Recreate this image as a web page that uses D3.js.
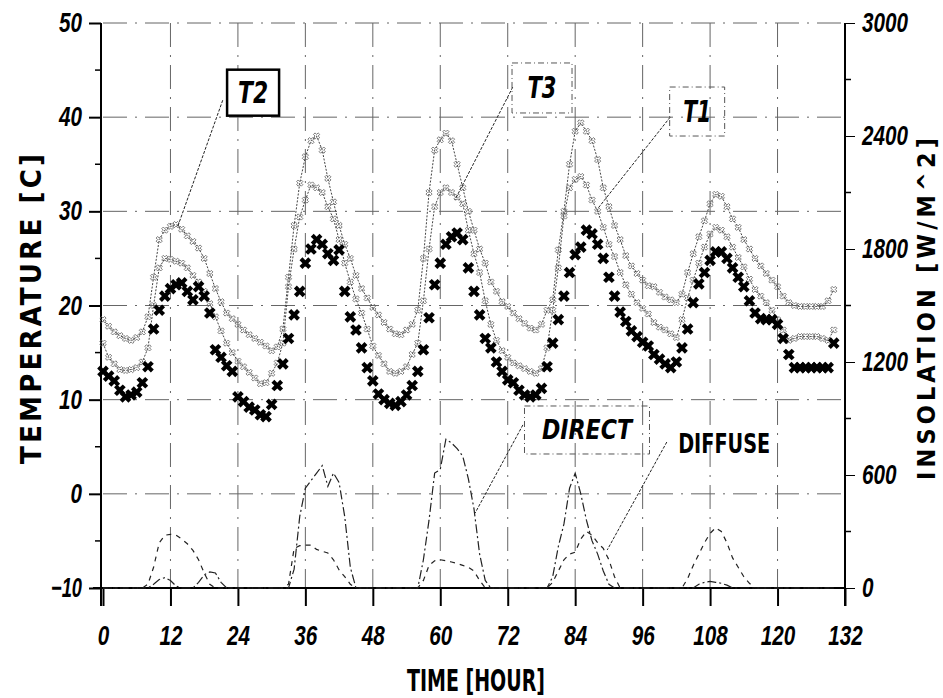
<!DOCTYPE html>
<html>
<head>
<meta charset="utf-8">
<script src="https://cdn.jsdelivr.net/npm/d3@7/dist/d3.min.js"></script>
<style>
  body { margin: 0; background: #fff; }
  svg { display: block; font-family: "Liberation Sans Narrow", "DejaVu Sans Condensed", "Liberation Sans", sans-serif; }
  .axis text { font-style: italic; font-weight: bold; font-size: 27px; fill: #000; }
  .axis path, .axis line { stroke: #000; }
</style>
</head>
<body>
<svg id="chart"></svg>
<script>
// hourly readings, index = hour (0..130)
const t1Values = [13,12.5,12,11,10.3,10.5,10.8,11.8,13.5,17.5,19.5,21,21.8,22.2,22.4,21.5,20.6,22,21,19.2,
  15.3,14.5,13.6,13,10.3,9.8,9.2,8.9,8.4,8.2,9.5,11.5,13.8,16.5,19,21.5,24.5,26,27,26.5,
  25.5,24.8,25.9,21.5,18.8,17.4,15.5,13.4,12,10.6,10,9.6,9.4,9.8,10.5,11.5,13,15.3,18.7,22.2,
  24.5,26.5,27.3,27.7,27,24,21.5,19,16.5,15.5,14,13,12.1,11.8,11,10.5,10.3,10.5,11.2,13.5,
  16,18.5,21,23.5,25.4,26.2,28,27.6,26.5,25,23,21,19.3,18.3,17.3,16.7,16.1,15.7,14.8,14.3,
  13.8,13.4,14,15.5,17.5,20.3,22.3,23.5,24.8,25.7,25.7,25,24,23,22,20.5,19.2,18.6,18.5,18.5,
  18,16.5,14.8,13.4,13.4,13.4,13.4,13.4,13.4,13.4,16];

const t2Values = [18.5,17.8,17.2,16.8,16.5,16.3,16.6,17.2,18.8,23,27,28,28.4,28.6,28.1,27.4,26.8,26.1,25,23.4,
  21.8,20.4,19.2,18.6,18,17.4,16.9,16.5,16.1,15.7,15.2,15.6,17.5,23,28.5,33,35.8,37.5,38,36.5,
  33.5,31,28.5,26.5,25,23.2,21.8,20.8,19.8,19,18.2,17.5,17,16.9,17.4,18,19.5,25,32,36.5,
  37.6,38.3,37.5,35,32.5,30,28,26,24.5,22.5,21.5,20.4,19.9,19.2,18.6,18.1,17.6,17.4,18,19.5,
  20.6,25.9,30,35,38.5,39.4,38.5,37.5,35.5,32.5,30.5,28.5,27,25.3,24.2,23.4,22.7,22.1,22,21.4,
  20.9,20.6,20.3,21.2,23.5,25.5,27.3,29,30.8,31.8,31.6,30.5,29.2,28.3,27,26,25,24.2,23.4,22.7,
  22,21,20.3,20,19.9,19.9,19.9,19.9,19.9,20.5,21.7];

const t3Values = [16,14.5,13.8,13.2,13.1,13.2,13.4,14,15.5,20,24,25,24.9,24.7,24.5,24,23.2,22.5,21.5,20.2,
  18.8,17.3,16,15,14.1,13.5,12.9,12.3,11.7,11.8,12.8,13.9,16,22,26,29.4,31.2,32.8,32.5,32,
  30.5,29.2,27,24.5,22.5,20.7,19.2,17.5,15.7,14.7,13.8,13,12.8,13,13.5,14.8,16,20.5,26,30.5,
  32,32.5,32,31.5,30.8,28,25.5,23.5,20.5,18,16.3,15.2,14.5,13.9,13.6,13.3,13,12.8,13.3,15.5,
  19.5,24,29.5,32.5,33.4,33.7,32.8,31.2,30,28.3,26.5,25.2,23.5,22.2,21.2,20.3,19.7,19.1,18.2,17.7,
  17.4,17,16.6,18.5,20.8,22.7,24.5,26.2,27.6,28.3,28,27.3,26.2,25.1,24.1,22.8,21.7,21,20.3,19.5,
  18.5,17.4,16.3,16.5,16.7,16.7,16.7,16.7,16.5,16.3,17.4];

const directValues = [0,0,0,0,0,0,0,0,0,20,45,55,40,10,0,0,0,30,70,85,
  80,30,0,0,0,0,0,0,0,0,0,0,0,0,100,380,530,570,610,650,
  540,610,560,380,110,0,0,0,0,0,0,0,0,0,0,0,0,150,360,610,
  630,790,770,740,700,580,420,180,40,0,0,0,0,0,0,0,0,0,0,0,
  60,220,340,530,610,500,360,250,180,90,20,0,0,0,0,0,0,0,0,0,
  0,0,0,0,0,0,20,30,35,30,25,15,0,0,0,0,0,0,0,0,
  0,0,0,0,0,0,0,0,0,0,0];

const diffuseValues = [0,0,0,0,0,0,0,0,20,110,240,280,285,280,260,235,200,150,80,20,
  0,0,0,0,0,0,0,0,0,0,0,0,0,20,210,225,228,228,205,195,
  186,150,96,60,20,0,0,0,0,0,0,0,0,0,0,0,0,40,120,145,
  150,145,138,130,120,110,90,40,0,0,0,0,0,0,0,0,0,0,0,0,
  30,90,150,180,190,260,300,280,240,210,150,60,0,0,0,0,0,0,0,0,
  0,0,0,0,50,120,180,240,290,320,300,240,160,110,60,25,0,0,0,0,
  0,0,0,0,0,0,0,0,0,0,0];

const xTicks = [0, 12, 24, 36, 48, 60, 72, 84, 96, 108, 120, 132];
const tempTicks = [-10, 0, 10, 20, 30, 40, 50];
const tempMinor = [-5, 5, 15, 25, 35, 45];
const insolTicks = [0, 600, 1200, 1800, 2400, 3000];
const insolMinor = [300, 900, 1500, 2100, 2700];

const width = 943, height = 698;
const svg = d3.select('#chart').attr('width', width).attr('height', height);
svg.append('rect').attr('width', width).attr('height', height).attr('fill', '#fff');

const x = d3.scaleLinear().domain([0, 132]).range([103, 845]);
const y = d3.scaleLinear().domain([-10, 50]).range([588, 23]);
const yR = d3.scaleLinear().domain([0, 3000]).range([588, 23]);

// squeeze tick labels to look like the narrow typeface of the original
function narrow(sel) {
  sel.selectAll('.tick text').each(function () {
    const s = this.textContent;
    let w = 0;
    for (const c of s) w += /[0-9]/.test(c) ? 11.5 : 8;
    d3.select(this).attr('textLength', w).attr('lengthAdjust', 'spacingAndGlyphs');
  });
}

// grid (dash-dot like the scanned original)
const grid = svg.append('g').attr('stroke', '#333').attr('stroke-width', 1)
  .attr('stroke-dasharray', '24,8,2,8').attr('opacity', 0.75);
grid.selectAll('.vg').data(xTicks.slice(1, -1)).join('line')
  .attr('x1', d => x(d)).attr('x2', d => x(d)).attr('y1', y(50)).attr('y2', y(-10));
grid.selectAll('.hg').data(tempTicks.slice(1)).join('line')
  .attr('x1', x(0)).attr('x2', x(132)).attr('y1', d => y(d)).attr('y2', d => y(d));

// axes
const xAxis = svg.append('g').attr('class', 'axis')
  .attr('transform', `translate(0,${y(-10)})`)
  .call(d3.axisBottom(x).tickValues(xTicks).tickFormat(d3.format('d'))
    .tickSize(18).tickSizeOuter(0).tickPadding(20));
xAxis.select('.domain').attr('d', `M${x(0) - 10},0H${x(132)}`).attr('stroke-width', 2);
xAxis.selectAll('.tick line').attr('stroke-width', 2);
narrow(xAxis);

const yAxis = svg.append('g').attr('class', 'axis')
  .attr('transform', `translate(${x(0) - 2},0)`)
  .call(d3.axisLeft(y).tickValues(tempTicks).tickFormat(d3.format('d'))
    .tickSize(12).tickSizeOuter(0).tickPadding(7));
yAxis.select('.domain').attr('d', `M0,${y(50)}V${y(-10) + 18}`).attr('stroke-width', 2);
yAxis.selectAll('.tick line').attr('stroke-width', 2);
narrow(yAxis);
svg.append('g').selectAll('line').data(tempMinor).join('line')
  .attr('x1', x(0) - 8).attr('x2', x(0) - 2).attr('y1', d => y(d)).attr('y2', d => y(d))
  .attr('stroke', '#000').attr('stroke-width', 1.5);

const rAxis = svg.append('g').attr('class', 'axis')
  .attr('transform', `translate(${x(132)},0)`)
  .call(d3.axisRight(yR).tickValues(insolTicks).tickFormat(d3.format('d'))
    .tickSize(10).tickSizeOuter(0).tickPadding(7));
rAxis.select('.domain').attr('d', `M0,${yR(3000)}V${yR(0) + 18}`).attr('stroke-width', 2);
narrow(rAxis);
svg.append('g').selectAll('line').data(insolMinor).join('line')
  .attr('x1', x(132)).attr('x2', x(132) + 6).attr('y1', d => yR(d)).attr('y2', d => yR(d))
  .attr('stroke', '#000').attr('stroke-width', 1.5);

// axis titles
svg.append('text')
  .attr('transform', `translate(41,309) rotate(-90)`)
  .attr('text-anchor', 'middle')
  .attr('textLength', 310).attr('lengthAdjust', 'spacing')
  .style('font-weight', 'bold').style('font-size', '29px')
  .text('TEMPERATURE [C]');
svg.append('text')
  .attr('transform', `translate(935,309) rotate(-90)`)
  .attr('text-anchor', 'middle')
  .attr('textLength', 342).attr('lengthAdjust', 'spacing')
  .style('font-weight', 'bold').style('font-size', '25px')
  .text('INSOLATION [W/M^2]');
svg.append('text')
  .attr('x', 476).attr('y', 691)
  .attr('text-anchor', 'middle')
  .attr('textLength', 138).attr('lengthAdjust', 'spacingAndGlyphs')
  .style('font-weight', 'bold').style('font-size', '30px')
  .text('TIME [HOUR]');

// insolation curves
const solarLine = vals => d3.line().x((d, i) => x(i)).y(d => yR(d))(vals);
svg.append('path').attr('d', solarLine(directValues))
  .attr('fill', 'none').attr('stroke', '#222').attr('stroke-width', 1.2)
  .attr('stroke-dasharray', '9,3,2,3');
svg.append('path').attr('d', solarLine(diffuseValues))
  .attr('fill', 'none').attr('stroke', '#222').attr('stroke-width', 1.2)
  .attr('stroke-dasharray', '5,5');

// temperature lines with small markers
const tempLine = d3.line().x((d, i) => x(i)).y(d => y(d));
const smallX = d3.symbol().type(d3.symbolCross).size(24);
[t2Values, t3Values].forEach(vals => {
  svg.append('path').attr('d', tempLine(vals))
    .attr('fill', 'none').attr('stroke', '#444').attr('stroke-width', 1)
    .attr('stroke-dasharray', '2,1.5');
  svg.append('g').selectAll('path').data(vals).join('path')
    .attr('d', smallX)
    .attr('transform', (d, i) => `translate(${x(i)},${y(d)}) rotate(45)`)
    .attr('fill', 'none').attr('stroke', '#666').attr('stroke-width', 0.8);
});

// T1: heavy cross markers
const bigX = d3.symbol().type(d3.symbolCross).size(85);
svg.append('g').selectAll('path').data(t1Values).join('path')
  .attr('d', bigX)
  .attr('transform', (d, i) => `translate(${x(i)},${y(d)}) rotate(45)`)
  .attr('fill', '#000');

// labels with leader lines (data coordinates)
const labels = [
  { text: 'T2', h: 26.7, v: 42.6, axis: 'T', box: 'solid', bw: 52, bh: 46, fs: 30, tw: 30, from: [21.3, 41.8], to: [13.3, 28.4] },
  { text: 'T3', h: 78.1, v: 43.1, axis: 'T', box: 'dotted', bw: 60, bh: 50, fs: 30, tw: 29, from: [72.9, 43.2], to: [62.6, 31.2] },
  { text: 'T1', h: 105.7, v: 40.6, axis: 'T', box: 'dotted', bw: 55, bh: 49, fs: 30, tw: 28, from: [100.9, 40], to: [87.9, 30.2] },
  { text: 'DIRECT', h: 86.1, v: 839, axis: 'R', box: 'dotted', bw: 125, bh: 48, fs: 27, tw: 90, from: [74.7, 866], to: [66.2, 398] },
  { text: 'DIFFUSE', h: 110.5, v: 765, axis: 'R', box: 'none', bw: 0, bh: 0, fs: 27, tw: 92, from: [100.3, 775], to: [89.7, 202] }
];
const yOf = (a, v) => a === 'T' ? y(v) : yR(v);
labels.forEach(l => {
  const cx = x(l.h), cy = yOf(l.axis, l.v);
  svg.append('line')
    .attr('x1', x(l.from[0])).attr('y1', yOf(l.axis, l.from[1]))
    .attr('x2', x(l.to[0])).attr('y2', yOf(l.axis, l.to[1]))
    .attr('stroke', '#222').attr('stroke-width', 1).attr('stroke-dasharray', '3,1.5');
  if (l.box !== 'none') {
    svg.append('rect')
      .attr('x', cx - l.bw / 2).attr('y', cy - l.bh / 2)
      .attr('width', l.bw).attr('height', l.bh)
      .attr('fill', l.box === 'solid' ? '#fff' : 'none')
      .attr('stroke', l.box === 'solid' ? '#000' : '#555')
      .attr('stroke-width', l.box === 'solid' ? 2.5 : 1)
      .attr('stroke-dasharray', l.box === 'solid' ? null : '6,3,1,3');
  }
  svg.append('text')
    .attr('x', cx).attr('y', cy)
    .attr('text-anchor', 'middle').attr('dominant-baseline', 'central')
    .attr('textLength', l.tw).attr('lengthAdjust', 'spacingAndGlyphs')
    .style('font-weight', 'bold').style('font-style', l.text === 'DIFFUSE' ? 'normal' : 'italic')
    .style('font-size', l.fs + 'px')
    .text(l.text);
});
</script>
</body>
</html>
